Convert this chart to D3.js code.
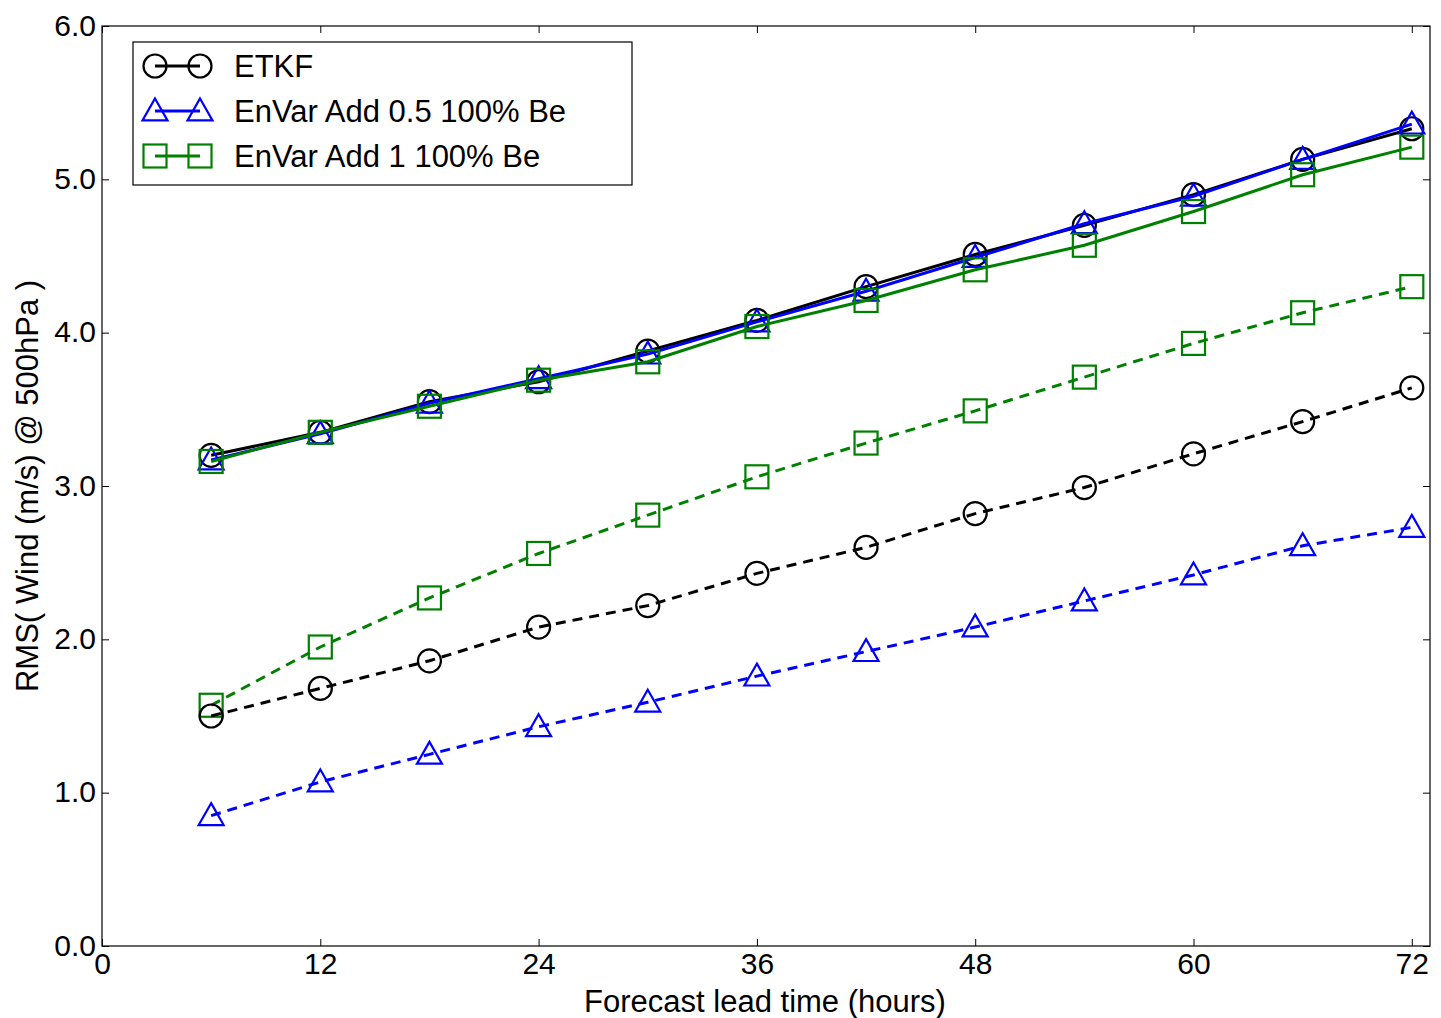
<!DOCTYPE html>
<html><head><meta charset="utf-8">
<script src="https://cdn.jsdelivr.net/npm/d3@7"></script>
<style>body{margin:0;background:#fff}svg{display:block;font-family:"Liberation Sans",Arial,sans-serif}</style>
</head><body>
<svg id="c" width="1441" height="1018"></svg>
<script>
const hours = [6,12,18,24,30,36,42,48,54,60,66,72];
const etkfSolid = [3.20,3.35,3.55,3.68,3.88,4.08,4.30,4.51,4.70,4.90,5.13,5.33];
const add05Solid = [3.17,3.34,3.54,3.70,3.86,4.07,4.27,4.49,4.71,4.89,5.13,5.36];
const add1Solid = [3.16,3.35,3.52,3.69,3.81,4.04,4.21,4.41,4.57,4.79,5.03,5.21];
const etkfDashed = [1.50,1.68,1.86,2.08,2.22,2.43,2.60,2.82,2.99,3.21,3.42,3.64];
const add05Dashed = [0.85,1.07,1.25,1.43,1.59,1.76,1.92,2.08,2.25,2.42,2.61,2.73];
const add1Dashed = [1.57,1.95,2.27,2.56,2.81,3.06,3.28,3.49,3.71,3.93,4.13,4.30];
const xTicks = [0,12,24,36,48,60,72];
const yTicks = [0,1,2,3,4,5,6];
const legendLabels = ["ETKF","EnVar Add 0.5 100% Be","EnVar Add 1 100% Be"];

const colors = {etkf:"#000000", add05:"#0000ff", add1:"#008000"};
const series = [
  {vals:etkfSolid, color:colors.etkf, marker:"circle", dash:null},
  {vals:add05Solid, color:colors.add05, marker:"triangle", dash:null},
  {vals:add1Solid, color:colors.add1, marker:"square", dash:null},
  {vals:add1Dashed, color:colors.add1, marker:"square", dash:"10,7"},
  {vals:etkfDashed, color:colors.etkf, marker:"circle", dash:"10,7"},
  {vals:add05Dashed, color:colors.add05, marker:"triangle", dash:"10,7"}
];

const L=102, R=1430, T=26, B=946;
const svg = d3.select("#c");
const x = d3.scaleLinear().domain([0,73]).range([L,R]);
const y = d3.scaleLinear().domain([0,6]).range([B,T]);

function drawMarker(g, type, cx, cy, color){
  if(type==="circle"){
    g.append("circle").attr("cx",cx).attr("cy",cy).attr("r",11.5)
      .attr("fill","none").attr("stroke",color).attr("stroke-width",2.2);
  } else if(type==="square"){
    g.append("rect").attr("x",cx-11.5).attr("y",cy-11.5).attr("width",23).attr("height",23)
      .attr("fill","none").attr("stroke",color).attr("stroke-width",2.2);
  } else {
    const s=12.5;
    g.append("path").attr("d",`M${cx},${cy-s} L${cx+s},${cy+s*0.75} L${cx-s},${cy+s*0.75} Z`)
      .attr("fill","none").attr("stroke",color).attr("stroke-width",2.2);
  }
}

const plot = svg.append("g");
const line = d3.line().x((d,i)=>x(hours[i])).y(d=>y(d));
series.forEach(s=>{
  plot.append("path").datum(s.vals).attr("d",line).attr("fill","none")
    .attr("stroke",s.color).attr("stroke-width",3)
    .attr("stroke-dasharray",s.dash);
  s.vals.forEach((v,i)=>drawMarker(plot,s.marker,x(hours[i]),y(v),s.color));
});

// axes frame
svg.append("rect").attr("x",L).attr("y",T).attr("width",R-L).attr("height",B-T)
  .attr("fill","none").attr("stroke","#000").attr("stroke-width",1.2);

const fs = 30;
const xa = svg.append("g").attr("transform",`translate(0,${B})`)
  .call(d3.axisBottom(x).tickValues(xTicks).tickSize(-7).tickFormat(d3.format("d")));
const xt = svg.append("g").attr("transform",`translate(0,${T})`)
  .call(d3.axisTop(x).tickValues(xTicks).tickSize(-7).tickFormat(""));
const ya = svg.append("g").attr("transform",`translate(${L},0)`)
  .call(d3.axisLeft(y).tickValues(yTicks).tickSize(-7).tickFormat(d3.format(".1f")));
const yr = svg.append("g").attr("transform",`translate(${R},0)`)
  .call(d3.axisRight(y).tickValues(yTicks).tickSize(-7).tickFormat(""));
[xa,xt,ya,yr].forEach(g=>{
  g.select(".domain").remove();
  g.selectAll(".tick line").attr("stroke","#000").attr("stroke-width",1);
  g.selectAll("text").attr("font-size",fs).attr("font-family","Liberation Sans, Arial, sans-serif").attr("fill","#000");
});
xa.selectAll("text").attr("dy",null).attr("y",20).attr("dominant-baseline","middle");
ya.selectAll("text").attr("x",-6).attr("dy","0.3em");

svg.append("text").attr("x",765).attr("y",1012).attr("text-anchor","middle")
  .attr("font-size",31).text("Forecast lead time (hours)");
svg.append("text").attr("transform",`translate(38,486) rotate(-90)`).attr("text-anchor","middle")
  .attr("font-size",31).text("RMS( Wind (m/s) @ 500hPa )");

// legend
const lg = svg.append("g");
lg.append("rect").attr("x",133).attr("y",42).attr("width",499).attr("height",143)
  .attr("fill","#fff").attr("stroke","#000").attr("stroke-width",1.2);
const legSeries = [series[0],series[1],series[2]];
legSeries.forEach((s,i)=>{
  const cy = 66 + i*45;
  lg.append("line").attr("x1",155).attr("x2",200).attr("y1",cy).attr("y2",cy)
    .attr("stroke",s.color).attr("stroke-width",3);
  drawMarker(lg,s.marker,155,cy,s.color);
  drawMarker(lg,s.marker,200,cy,s.color);
  lg.append("text").attr("x",234).attr("y",cy).attr("dy","0.35em")
    .attr("font-size",31).text(legendLabels[i]);
});
</script>
</body></html>
